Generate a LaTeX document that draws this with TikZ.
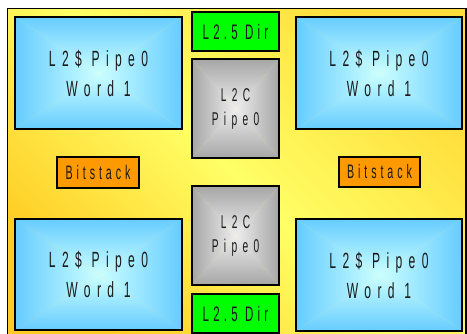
\documentclass[tikz,border=0pt]{standalone}
\usepackage{fontspec}
\newfontfamily\nfA[FakeStretch=0.55,LetterSpace=29]{Liberation Sans}
\newfontfamily\nfB[FakeStretch=0.55,LetterSpace=20]{Liberation Sans}
\definecolor{bluein}{HTML}{CCFFFF}
\definecolor{blueout}{HTML}{66CCFF}
\definecolor{grayin}{HTML}{EEEEEE}
\definecolor{grayout}{HTML}{A6A6A6}
\definecolor{goldA}{HTML}{FFCC22}
\definecolor{goldB}{HTML}{FFFF66}
\definecolor{goldC}{HTML}{FFDD3A}
\definecolor{greenbox}{HTML}{00FF00}
\definecolor{orangebox}{HTML}{FF9900}
\definecolor{txt}{HTML}{1A1A1A}
\newcommand\pyrshade[6]{%
  \pgfmathsetmacro\pcx{(#1+#3)/2}%
  \pgfmathsetmacro\pcy{(#2+#4)/2}%
  \begin{scope}\clip (#1,#2)--(#3,#2)--(\pcx,\pcy)--cycle;
    \shade[top color=#6,bottom color=#5] (#1,#2) rectangle (#3,\pcy);\end{scope}
  \begin{scope}\clip (#1,#4)--(#3,#4)--(\pcx,\pcy)--cycle;
    \shade[top color=#5,bottom color=#6] (#1,\pcy) rectangle (#3,#4);\end{scope}
  \begin{scope}\clip (#1,#2)--(#1,#4)--(\pcx,\pcy)--cycle;
    \shade[left color=#6,right color=#5] (#1,#2) rectangle (\pcx,#4);\end{scope}
  \begin{scope}\clip (#3,#2)--(#3,#4)--(\pcx,\pcy)--cycle;
    \shade[left color=#5,right color=#6] (\pcx,#2) rectangle (#3,#4);\end{scope}
}
\tikzset{
  box/.style={draw=black,line width=1.2pt,rectangle,inner sep=0pt,outer sep=0pt,
    text=txt,align=center},
  bluebox/.style={box,minimum width=167pt,minimum height=112pt,
    font=\nfA\fontsize{22}{30}\selectfont},
  graybox/.style={box,minimum width=87pt,minimum height=99pt,
    font=\nfA\fontsize{18.5}{24}\selectfont},
  greenlbl/.style={box,fill=greenbox,minimum width=87pt,minimum height=39pt,
    font=\nfB\fontsize{21}{24}\selectfont},
  orangelbl/.style={box,fill=orangebox,minimum width=82pt,minimum height=31pt,
    font=\nfB\fontsize{19.5}{22}\selectfont},
}
\begin{document}
\begin{tikzpicture}[x=1pt,y=-1pt]
\useasboundingbox (0,0) rectangle (467,334);
\clip (0,0) rectangle (467,334);
\fill[white] (0,0) rectangle (467,334);
% outer yellow panel (drawn in upward y so the shading angle is unflipped)
\begin{scope}[y=1pt]
\shade[left color=goldA,right color=goldC,middle color=goldB,shading angle=135]
  (7.5,-8.5) rectangle (466,-345);
\end{scope}
\draw[line width=1.4pt] (7.5,8.5) rectangle (466,345);
% shadings
\pyrshade{15}{17}{182}{129}{bluein}{blueout}
\pyrshade{296}{17}{462}{129}{bluein}{blueout}
\pyrshade{15}{219}{182}{330}{bluein}{blueout}
\pyrshade{296}{219}{462}{331}{bluein}{blueout}
\pyrshade{192}{59}{279}{158}{grayin}{grayout}
\pyrshade{192}{186}{279}{285}{grayin}{grayout}
% nodes
\node[bluebox] (w1) at (98.5,73) {L2\$ Pipe0\\Word 1};
\node[bluebox,minimum width=166pt] (w2) at (379,73) {L2\$ Pipe0\\Word 1};
\node[bluebox,minimum height=111pt] (w3) at (98.5,274.5) {L2\$ Pipe0\\Word 1};
\node[bluebox,minimum width=166pt] (w4) at (379,275) {L2\$ Pipe0\\Word 1};
\node[graybox] (c1) at (235.5,108.5) {L2C\\Pipe0};
\node[graybox] (c2) at (235.5,235.5) {L2C\\Pipe0};
\node[greenlbl] (d1) at (235.5,31.5) {L2.5 Dir};
\node[greenlbl] (d2) at (235.5,313.5) {L2.5 Dir};
\node[orangelbl] (s1) at (98,172.5) {Bitstack};
\node[orangelbl,minimum width=81pt,minimum height=30pt] (s2) at (379.5,172) {Bitstack};
\end{tikzpicture}
\end{document}
